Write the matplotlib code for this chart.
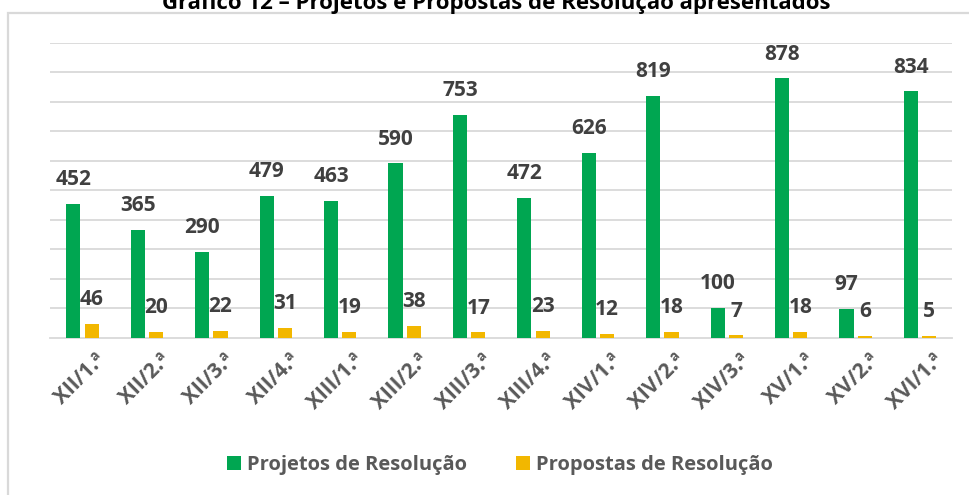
import matplotlib.pyplot as plt
import matplotlib.patches as mpatches
import numpy as np

plt.rcParams['font.family'] = ['Open Sans', 'DejaVu Sans']

categorias = ['XII/1.ª', 'XII/2.ª', 'XII/3.ª', 'XII/4.ª', 'XIII/1.ª', 'XIII/2.ª',
              'XIII/3.ª', 'XIII/4.ª', 'XIV/1.ª', 'XIV/2.ª', 'XIV/3.ª', 'XV/1.ª',
              'XV/2.ª', 'XVI/1.ª']
projetos = [452, 365, 290, 479, 463, 590, 753, 472, 626, 819, 100, 878, 97, 834]
propostas = [46, 20, 22, 31, 19, 38, 17, 23, 12, 18, 7, 18, 6, 5]

verde = '#00A651'
amarelo = '#F2B700'
cinza = '#595959'

W, H = 970, 495
fig = plt.figure(figsize=(W / 100, H / 100), dpi=100)
ax = fig.add_axes([50 / W, 1 - 337.5 / H, 902 / W, 295 / H])

# chart border (cut off on the right/bottom in the original)
fig.patches.append(mpatches.Rectangle((8 / W, -0.02), 1.05, 1 - 13 / H + 0.02,
                                      transform=fig.transFigure, fill=False,
                                      edgecolor='#d9d9d9', lw=1.6))

fig.text(496 / W, 1 - 3 / H, 'Gráfico 12 – Projetos e Propostas de Resolução apresentados',
         ha='center', va='center', fontsize=16, fontweight='bold', color='black')

x = np.arange(len(categorias))
w = 0.22
b1 = ax.bar(x - 0.138, projetos, w, color=verde, label='Projetos de Resolução', zorder=3)
b2 = ax.bar(x + 0.147, propostas, w, color=amarelo, label='Propostas de Resolução', zorder=3)

for bars, vals in ((b1, projetos), (b2, propostas)):
    for r, v in zip(bars, vals):
        ax.annotate(str(v), (r.get_x() + r.get_width() / 2, v), xytext=(0, 10),
                    textcoords='offset points', ha='center', va='bottom',
                    fontsize=15, fontweight='bold', color='#404040', zorder=4)

ax.set_xlim(-0.5, len(categorias) - 0.5)
ax.set_ylim(0, 1000)
ax.set_yticks(np.arange(100, 1001, 100))
ax.yaxis.grid(True, color='#d9d9d9', lw=1.3, zorder=0)
ax.tick_params(axis='y', left=False, labelleft=False)
ax.tick_params(axis='x', length=0, pad=9)
for s in ['top', 'right', 'left']:
    ax.spines[s].set_visible(False)
ax.spines['bottom'].set_color('#d9d9d9')
ax.spines['bottom'].set_linewidth(1.3)

ax.set_xticks(x + 0.2)
ax.set_xticklabels(categorias, rotation=45, ha='right', va='top', rotation_mode='anchor',
                   fontsize=15, fontweight='bold', color=cinza)

fig.legend(handles=[b1, b2], loc='center', bbox_to_anchor=(500 / W, 1 - 465 / H), ncol=2,
           frameon=False, handlelength=0.7, handleheight=0.7, handletextpad=0.3,
           columnspacing=2.4, prop={'size': 14.5, 'weight': 'bold'}, labelcolor=cinza)

fig.savefig('out.png', dpi=100)
